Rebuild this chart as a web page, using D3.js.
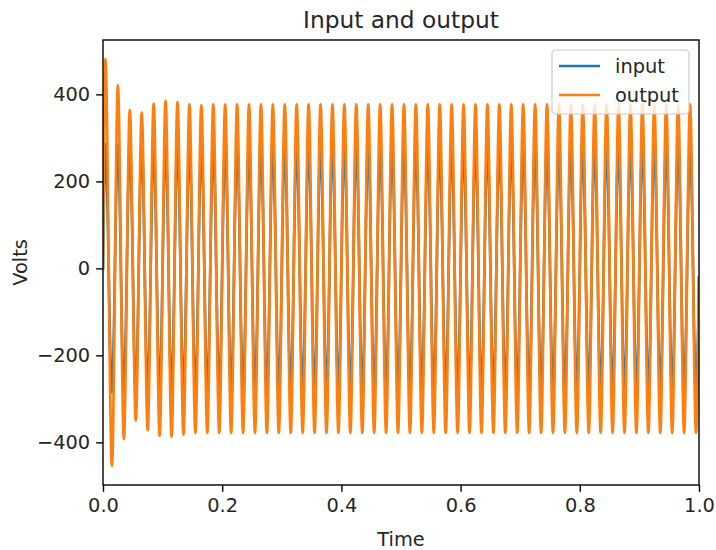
<!DOCTYPE html>
<html>
<head>
<meta charset="utf-8">
<script src="https://cdn.jsdelivr.net/npm/d3@7"></script>
<style>
  html, body { margin: 0; padding: 0; background: #ffffff; }
  svg { display: block; font-family: "DejaVu Sans", sans-serif; }
</style>
</head>
<body>
<svg id="chart" width="716" height="550"></svg>
<script>
// Turning points of the two signals (seconds): start, every half period of the 50 Hz wave, end.
const times = [
  0, 0.004, 0.015, 0.025, 0.035, 0.045, 0.055, 0.065, 0.075, 0.085,
  0.095, 0.105, 0.115, 0.125, 0.135, 0.145, 0.155, 0.165, 0.175, 0.185,
  0.195, 0.205, 0.215, 0.225, 0.235, 0.245, 0.255, 0.265, 0.275, 0.285,
  0.295, 0.305, 0.315, 0.325, 0.335, 0.345, 0.355, 0.365, 0.375, 0.385,
  0.395, 0.405, 0.415, 0.425, 0.435, 0.445, 0.455, 0.465, 0.475, 0.485,
  0.495, 0.505, 0.515, 0.525, 0.535, 0.545, 0.555, 0.565, 0.575, 0.585,
  0.595, 0.605, 0.615, 0.625, 0.635, 0.645, 0.655, 0.665, 0.675, 0.685,
  0.695, 0.705, 0.715, 0.725, 0.735, 0.745, 0.755, 0.765, 0.775, 0.785,
  0.795, 0.805, 0.815, 0.825, 0.835, 0.845, 0.855, 0.865, 0.875, 0.885,
  0.895, 0.905, 0.915, 0.925, 0.935, 0.945, 0.955, 0.965, 0.975, 0.985,
  0.995, 1.0
];

// Input voltage at those instants (steady sine).
const inputValues = [
  0, 285, -285, 285, -285, 285, -285, 285, -285, 285,
  -285, 285, -285, 285, -285, 285, -285, 285, -285, 285,
  -285, 285, -285, 285, -285, 285, -285, 285, -285, 285,
  -285, 285, -285, 285, -285, 285, -285, 285, -285, 285,
  -285, 285, -285, 285, -285, 285, -285, 285, -285, 285,
  -285, 285, -285, 285, -285, 285, -285, 285, -285, 285,
  -285, 285, -285, 285, -285, 285, -285, 285, -285, 285,
  -285, 285, -285, 285, -285, 285, -285, 285, -285, 285,
  -285, 285, -285, 285, -285, 285, -285, 285, -285, 285,
  -285, 285, -285, 285, -285, 285, -285, 285, -285, 285,
  -285, -20
];

// Output voltage at those instants (start-up transient, then steady state).
const outputValues = [
  0, 481, -454, 421, -392, 364, -350, 358, -372, 379,
  -385, 385, -387, 382, -382, 377, -378, 375, -378, 377,
  -378, 377, -378, 377, -378, 377, -378, 377, -378, 377,
  -378, 377, -378, 377, -378, 377, -378, 377, -378, 377,
  -378, 377, -378, 377, -378, 377, -378, 377, -378, 377,
  -378, 377, -378, 377, -378, 377, -378, 377, -378, 377,
  -378, 377, -378, 377, -378, 377, -378, 377, -378, 377,
  -378, 377, -378, 377, -378, 377, -378, 377, -378, 377,
  -378, 377, -378, 377, -378, 377, -378, 377, -378, 377,
  -378, 377, -378, 377, -378, 377, -378, 377, -378, 377,
  -378, -25
];

const seriesNames = ["input", "output"];
const seriesColors = ["#1f77b4", "#ff7f0e"];
const xTicks = [0, 0.2, 0.4, 0.6, 0.8, 1.0];
const yTicks = [-400, -200, 0, 200, 400];

const margin = { left: 103, right: 17, top: 40, bottom: 65 };
const W = 716, H = 550;
const plotW = W - margin.left - margin.right;
const plotH = H - margin.top - margin.bottom;

const svg = d3.select("#chart");

const x = d3.scaleLinear().domain([0, 1]).range([margin.left, margin.left + plotW]);
const y = d3.scaleLinear().domain([-498, 525]).range([margin.top + plotH, margin.top]);

svg.append("defs").append("clipPath").attr("id", "plotClip")
  .append("rect")
  .attr("x", margin.left).attr("y", margin.top)
  .attr("width", plotW).attr("height", plotH);

const series = [inputValues, outputValues].map((vals, i) => ({
  name: seriesNames[i],
  color: seriesColors[i],
  points: times.map((t, k) => [t, vals[k]])
}));

const line = d3.line()
  .x(d => x(d[0]))
  .y(d => y(d[1]))
  .curve(d3.curveMonotoneX);

const lines = svg.append("g").attr("clip-path", "url(#plotClip)");
lines.selectAll("path")
  .data(series)
  .join("path")
  .attr("d", d => line(d.points))
  .attr("fill", "none")
  .attr("stroke", d => d.color)
  .attr("stroke-width", 2.7)
  .attr("stroke-linejoin", "round")
  .attr("stroke-linecap", "square");

// Axes
const tickFont = "19.4px";
const xAxis = svg.append("g")
  .attr("transform", `translate(0,${margin.top + plotH})`)
  .call(d3.axisBottom(x).tickValues(xTicks).tickFormat(d3.format(".1f")).tickSizeOuter(0).tickSize(6.8).tickPadding(6));
const yAxis = svg.append("g")
  .attr("transform", `translate(${margin.left},0)`)
  .call(d3.axisLeft(y).tickValues(yTicks).tickFormat(d => d < 0 ? "\u2212" + Math.abs(d) : String(d)).tickSizeOuter(0).tickSize(6.8).tickPadding(6));

[xAxis, yAxis].forEach(g => {
  g.select(".domain").remove();
  g.selectAll(".tick line").attr("stroke", "#000").attr("stroke-width", 1.4);
  g.selectAll(".tick text")
    .attr("fill", "#262626")
    .style("font-size", tickFont)
    .style("font-family", "DejaVu Sans, sans-serif");
});

// Frame
svg.append("rect")
  .attr("x", margin.left).attr("y", margin.top)
  .attr("width", plotW).attr("height", plotH)
  .attr("fill", "none")
  .attr("stroke", "#000")
  .attr("stroke-width", 1.4);

// Labels
svg.append("text")
  .attr("x", margin.left + plotW / 2).attr("y", 28)
  .attr("text-anchor", "middle")
  .attr("fill", "#262626")
  .style("font-size", "23.3px")
  .text("Input and output");

svg.append("text")
  .attr("x", margin.left + plotW / 2).attr("y", 546)
  .attr("text-anchor", "middle")
  .attr("fill", "#262626")
  .style("font-size", tickFont)
  .text("Time");

svg.append("text")
  .attr("transform", `translate(27,${margin.top + plotH / 2}) rotate(-90)`)
  .attr("text-anchor", "middle")
  .attr("fill", "#262626")
  .style("font-size", tickFont)
  .text("Volts");

// Legend
const legend = svg.append("g").attr("transform", "translate(552,50)");
legend.append("rect")
  .attr("width", 137).attr("height", 64)
  .attr("rx", 4).attr("ry", 4)
  .attr("fill", "#ffffff").attr("fill-opacity", 0.8)
  .attr("stroke", "#cccccc").attr("stroke-width", 1.2);

const items = legend.selectAll("g.item")
  .data(series)
  .join("g")
  .attr("class", "item")
  .attr("transform", (d, i) => `translate(0,${16 + i * 29})`);
items.append("line")
  .attr("x1", 7).attr("x2", 48)
  .attr("stroke", d => d.color)
  .attr("stroke-width", 2.7);
items.append("text")
  .attr("x", 63).attr("y", 7)
  .attr("fill", "#262626")
  .style("font-size", tickFont)
  .text(d => d.name);
</script>
</body>
</html>
